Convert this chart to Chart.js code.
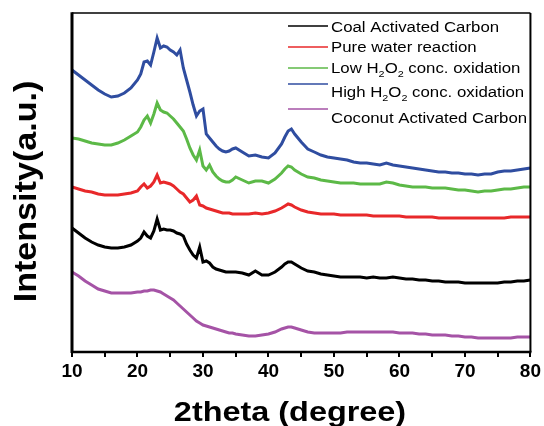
<!DOCTYPE html>
<html><head><meta charset="utf-8">
<script src="https://cdn.jsdelivr.net/npm/chart.js@4.4.0/dist/chart.umd.min.js"></script>
<style>html,body{margin:0;padding:0;background:#fff;}#wrap{width:544px;height:426px;position:relative;}</style>
</head><body><div id="wrap"><canvas id="c" width="544" height="426"></canvas></div>
<script>
const twoTheta = [10,11,12,13,14,15,16,17,18,19,20,
20.5,21,21.5,22,22.5,23,23.5,24,24.5,25,25.5,26,26.5,27,27.5,28,28.5,29,29.5,30,30.5,31,31.5,32,32.5,33,33.5,34,34.5,35,
36,37,38,39,40,41,42,
42.5,43,43.5,44,
45,46,47,48,49,50,51,52,53,54,55,56,57,58,59,60,61,62,63,64,65,66,67,68,69,70,71,72,73,74,75,76,77,78,79,80];

const coalAC = [124,119,114,110,107,105,104,104,105,107,111,
114,120,116,114,121,133,122,123,122,122,121,119,118,116,108,102,97,94,105,90,91,89,85,83,82,81,80,80,80,80,
79,77,81,77,77,80,85,
88,90,90,88,
84,81,80,78,77,76,75,75,75,75,74,75,74,74,75,74,73,73,72,72,71,71,70,70,70,69,69,69,69,69,69,70,70,71,71,72];

const pureWater = [165,163,161,160,158,157,157,157,158,159,161,
165,168,164,166,170,177,169,170,169,168,166,163,160,158,154,150,152,156,147,146,144,143,142,141,140,139,139,139,138,138,
138,138,139,138,139,141,144,
146,148,147,145,
142,140,139,138,138,138,137,137,137,137,137,136,136,136,136,136,135,135,135,135,135,134,134,134,134,134,134,134,134,134,134,134,135,135,135,135];

const lowH2O2 = [214,213,211,209,208,207,207,209,212,216,220,
225,232,236,229,238,249,242,240,239,236,233,229,225,221,213,204,197,192,202,186,182,187,180,176,173,171,170,170,172,175,
172,169,171,171,169,173,179,
183,186,185,182,
178,175,174,172,171,170,169,169,169,168,168,168,168,170,169,167,166,165,165,165,164,164,164,163,162,162,161,160,161,161,162,163,163,164,165,165];

const highH2O2 = [282,277,272,267,262,258,255,256,259,264,272,
278,290,291,287,300,314,304,306,305,302,300,297,302,284,272,260,247,236,241,243,218,214,210,206,203,201,200,201,203,204,
200,196,197,195,194,199,208,
215,221,223,218,
210,203,200,197,195,194,193,192,190,189,189,188,187,189,187,186,185,184,183,182,181,180,180,179,179,178,178,177,178,178,180,181,181,182,183,184];

const coconutAC = [80,76,71,67,63,61,59,59,59,59,60,
60,61,61,62,62,61,60,58,56,54,52,49,46,43,40,37,34,31,29,27,26,25,24,23,22,21,20,19,19,18,
17,16,16,17,18,20,23,
24,25,25,24,
22,20,19,19,19,19,19,20,20,20,20,20,20,20,20,19,19,19,18,18,17,17,17,16,16,15,15,14,14,14,14,14,14,15,15,15];

const seriesLabels = ['Coal Activated Carbon','Pure water reaction','Low H_2O_2 conc. oxidation','High H_2O_2 conc. oxidation','Coconut Activated Carbon'];
const seriesColors = ['#000000','#e8282a','#5cb947','#2f4da0','#a553a6'];
const xTickLabels = [10,20,30,40,50,60,70,80];
const xTitle = '2theta (degree)';
const yTitle = 'Intensity(a.u.)';

const seriesValues = [coalAC, pureWater, lowH2O2, highH2O2, coconutAC];

function drawStretched(ctx, parts, x, y, size, stretch, weight, align) {
  ctx.save();
  ctx.textBaseline = 'alphabetic';
  ctx.textAlign = 'left';
  let total = 0;
  const widths = parts.map(p => {
    ctx.font = weight + ' ' + (p.sub ? Math.round(size*0.65) : size) + 'px "Liberation Sans", Arial, sans-serif';
    const w = ctx.measureText(p.t).width; total += w; return w;
  });
  ctx.translate(x, y);
  ctx.scale(stretch, 1);
  let cx = align === 'center' ? -total/2 : 0;
  parts.forEach((p, i) => {
    ctx.font = weight + ' ' + (p.sub ? Math.round(size*0.65) : size) + 'px "Liberation Sans", Arial, sans-serif';
    ctx.fillText(p.t, cx, p.sub ? size*0.3 : 0);
    cx += widths[i];
  });
  ctx.restore();
}
function parseLabel(s) {
  const out = [];
  s.split(/(_\d)/).forEach(seg => {
    if (!seg) return;
    if (seg[0] === '_') out.push({t: seg.slice(1), sub: true});
    else out.push({t: seg, sub: false});
  });
  return out;
}

const decor = {
  id: 'decor',
  afterDraw(chart) {
    const ctx = chart.ctx, a = chart.chartArea;
    ctx.save();
    ctx.strokeStyle = '#000';
    ctx.lineWidth = 1.5;
    ctx.beginPath(); ctx.moveTo(a.left, a.top); ctx.lineTo(a.right, a.top); ctx.stroke();
    ctx.lineWidth = 2;
    ctx.beginPath(); ctx.moveTo(a.right, a.top); ctx.lineTo(a.right, a.bottom); ctx.stroke();
    ctx.lineWidth = 2.5;
    ctx.beginPath(); ctx.moveTo(a.left - 1, a.bottom); ctx.lineTo(a.right + 1, a.bottom); ctx.stroke();
    ctx.lineWidth = 3;
    ctx.beginPath(); ctx.moveTo(a.left, a.top - 0.7); ctx.lineTo(a.left, a.bottom + 1); ctx.stroke();
    ctx.fillStyle = '#000';
    drawStretched(ctx, [{t: xTitle}], 290, 421, 27, 1.2, 'bold', 'center');
    ctx.save();
    ctx.translate(36, 191.5);
    ctx.rotate(-Math.PI/2);
    drawStretched(ctx, [{t: yTitle}], 0, 0, 31, 1.1, 'bold', 'center');
    ctx.restore();
    const lineY = [26, 47, 68, 84, 109];
    const textY = [27, 47, 68, 92, 118];
    chart.data.datasets.forEach((ds, i) => {
      ctx.strokeStyle = ds.borderColor;
      ctx.lineWidth = 1.5;
      ctx.beginPath(); ctx.moveTo(288, lineY[i]); ctx.lineTo(328, lineY[i]); ctx.stroke();
      ctx.fillStyle = '#000';
      drawStretched(ctx, parseLabel(ds.label), 331, textY[i] + 5, 14, 1.2, 'normal', 'left');
    });
    ctx.restore();
  }
};

new Chart(document.getElementById('c'), {
  type: 'line',
  data: {
    datasets: seriesValues.map((vals, i) => ({
      label: seriesLabels[i],
      data: twoTheta.map((x, j) => ({x: x, y: vals[j]})),
      borderColor: seriesColors[i],
      backgroundColor: seriesColors[i],
      borderWidth: 3,
      pointRadius: 0,
      tension: 0,
      fill: false
    }))
  },
  options: {
    responsive: false,
    animation: false,
    devicePixelRatio: 1,
    layout: {padding: {top: 13, right: 12, left: 0, bottom: 0}},
    plugins: {legend: {display: false}, tooltip: {enabled: false}},
    scales: {
      x: {
        type: 'linear', position: 'bottom', min: 10, max: 80,
        afterFit(s) { s.height = 74; },
        afterBuildTicks(s) { s.ticks = []; for (let v = 10; v <= 80; v += 5) s.ticks.push({value: v}); },
        ticks: {
          autoSkip: false, maxRotation: 0, color: '#000', padding: 3,
          font: {family: '"Liberation Sans", Arial, sans-serif', size: 19, weight: 'bold'},
          callback: v => xTickLabels.includes(v) ? String(v) : ''
        },
        grid: {drawOnChartArea: false, drawTicks: true, tickLength: 5, color: '#000', lineWidth: 2},
        border: {display: false}
      },
      y: {
        min: 0, max: 339,
        afterFit(s) { s.width = 72; },
        ticks: {display: false},
        grid: {display: false},
        border: {display: false}
      }
    }
  },
  plugins: [decor]
});
</script></body></html>
